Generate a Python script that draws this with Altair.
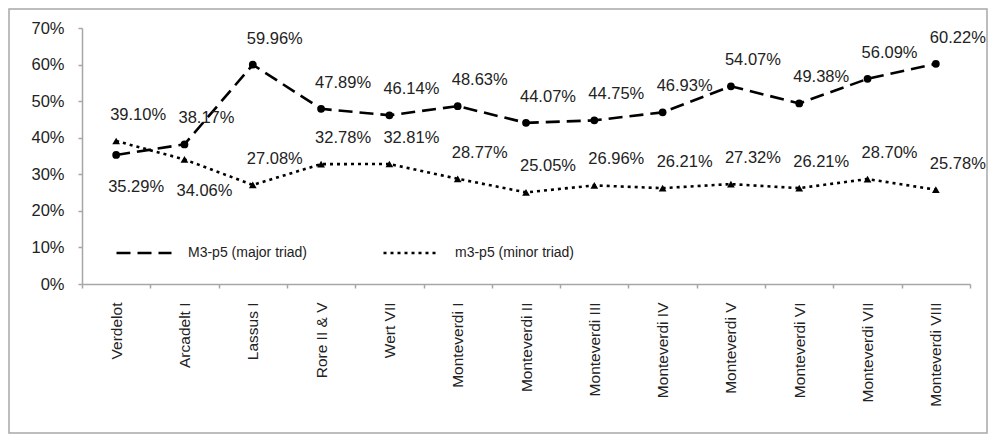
import altair as alt
import pandas as pd

works = ["Verdelot", "Arcadelt I", "Lassus I", "Rore II & V", "Wert VII",
         "Monteverdi I", "Monteverdi II", "Monteverdi III", "Monteverdi IV",
         "Monteverdi V", "Monteverdi VI", "Monteverdi VII", "Monteverdi VIII"]
major = [35.29, 38.17, 59.96, 47.89, 46.14, 48.63, 44.07, 44.75, 46.93,
         54.07, 49.38, 56.09, 60.22]
minor = [39.10, 34.06, 27.08, 32.78, 32.81, 28.77, 25.05, 26.96, 26.21,
         27.32, 26.21, 28.70, 25.78]
series_names = ["M3-p5 (major triad)", "m3-p5 (minor triad)"]

rows = []
for w, a, b in zip(works, major, minor):
    close = abs(a - b) < 5  # when the two points are close, the lower label goes under
    rows.append({"work": w, "series": series_names[0], "marker": "major", "value": a,
                 "label": f"{a:.2f}%", "below": close and a < b})
    rows.append({"work": w, "series": series_names[1], "marker": "minor", "value": b,
                 "label": f"{b:.2f}%", "below": close and b < a})
df = pd.DataFrame(rows)

font = "Liberation Sans"

x = alt.X("work:N", sort=works, title=None,
          scale=alt.Scale(type="band", paddingInner=0, paddingOuter=0),
          axis=alt.Axis(labelAngle=-90, labelAlign="right", labelBaseline="middle",
                        tickBand="extent", tickSize=4, labelPadding=14,
                        labelFontSize=15.5))
y = alt.Y("value:Q", title=None,
          scale=alt.Scale(domain=[0, 70], nice=False),
          axis=alt.Axis(values=list(range(0, 71, 10)), labelExpr="datum.value + '%'",
                        tickSize=4, labelPadding=14, labelFontSize=16.5, grid=False))

base = alt.Chart(df)

lines = base.mark_line(color="black", strokeWidth=2.6).encode(
    x=x, y=y,
    strokeDash=alt.StrokeDash(
        "series:N", title=None,
        scale=alt.Scale(domain=series_names, range=[[14, 7], [3, 4]]),
        legend=alt.Legend(orient="none", direction="horizontal", legendX=33, legendY=196,
                          symbolType="stroke", symbolSize=3025, symbolStrokeWidth=2.6,
                          symbolStrokeColor="black", labelFontSize=14, labelFont=font,
                          labelColor="#222", labelOffset=15, columnPadding=70)),
    detail="series:N",
)

points = base.mark_point(filled=True, color="black", opacity=1, size=60).encode(
    x=x, y=y,
    shape=alt.Shape("marker:N",
                    scale=alt.Scale(domain=["major", "minor"], range=["circle", "triangle-up"]),
                    legend=None),
)

labels_above = base.transform_filter("!datum.below").mark_text(
    dx=22, dy=-26, fontSize=16.5, font=font, color="#222").encode(
    x=x, y=y, text="label:N")

labels_below = base.transform_filter("datum.below").mark_text(
    dx=20, dy=32, fontSize=16.5, font=font, color="#222").encode(
    x=x, y=y, text="label:N")

frame = alt.Chart(alt.Data(values=[{"k": 1}])).mark_rect(
    filled=False, stroke="#a8a8a8", strokeWidth=1.5).encode(
    x=alt.value(-73), x2=alt.value(905), y=alt.value(-19), y2=alt.value(405))

chart = alt.layer(frame, lines, points, labels_above, labels_below).properties(
    width=888, height=256,
    autosize=alt.AutoSizeParams(type="none"),
    padding={"left": 74, "top": 20, "right": 18, "bottom": 150},
).configure_view(stroke=None).configure_axis(
    domainColor="#a6a6a6", tickColor="#a6a6a6", domainWidth=1.5, tickWidth=1.5,
    labelColor="#222", labelFont=font,
)

chart.save("out.html", embed_options={"renderer": "svg", "actions": False})
